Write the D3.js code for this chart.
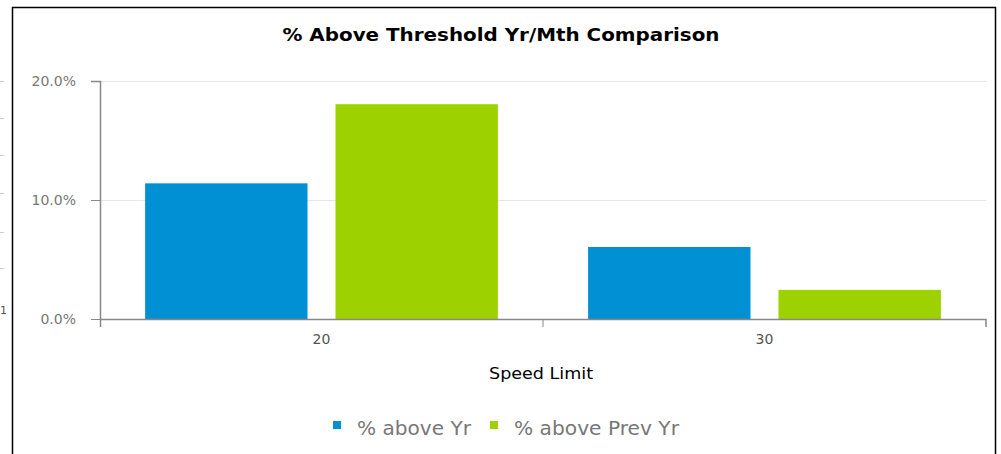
<!DOCTYPE html>
<html>
<head>
<meta charset="utf-8">
<script src="https://cdn.jsdelivr.net/npm/d3@7"></script>
<style>
  body { margin: 0; background: #fff; }
  svg { display: block; }
</style>
</head>
<body>
<div id="chart"></div>
<script>
// data
var categories = ["20", "30"];
var seriesNames = ["% above Yr", "% above Prev Yr"];
var aboveYr = [11.4, 6.05];
var abovePrevYr = [18.05, 2.45];
var yTicks = [0, 10, 20];
var colors = ["#0290d4", "#9dd200"];

var W = 1001, H = 454;
var margin = {top: 81, right: 15, bottom: 135, left: 100},
    width = 986 - margin.left,
    height = 319 - margin.top;

var svg = d3.select("#chart").append("svg")
    .attr("width", W)
    .attr("height", H);

// frame around the chart panel
svg.append("path")
    .attr("d", "M12.5,454 V7.5 H995.5 V454")
    .attr("fill", "none")
    .attr("stroke", "#000")
    .attr("stroke-width", 1.5);

// leftover tick marks of the neighbouring panel
[81, 118, 155, 193, 232, 268].forEach(function(y) {
  svg.append("line")
      .attr("x1", 0).attr("x2", 4)
      .attr("y1", y + 0.5).attr("y2", y + 0.5)
      .attr("stroke", "#ccc");
});
svg.append("text")
    .attr("x", 0).attr("y", 314)
    .attr("font-family", "DejaVu Sans, sans-serif")
    .attr("font-size", 11).attr("fill", "#555")
    .text("1");

var g = svg.append("g")
    .attr("transform", "translate(" + margin.left + "," + margin.top + ")");

var y = d3.scaleLinear()
    .domain([0, 20])
    .range([height, 0]);

var x0 = d3.scaleBand()
    .domain(categories)
    .range([0, width])
    .padding(0);

var x1 = d3.scaleBand()
    .domain(seriesNames)
    .range([0, x0.bandwidth()])
    .paddingInner(0.147)
    .paddingOuter(0.237);

// grid
g.selectAll(".grid")
    .data(yTicks.filter(function(d) { return d > 0; }))
    .enter().append("line")
    .attr("x1", 0).attr("x2", width)
    .attr("y1", function(d) { return Math.round(y(d)) + 0.5; })
    .attr("y2", function(d) { return Math.round(y(d)) + 0.5; })
    .attr("stroke", "#e6e6e6");

// bars
var rows = categories.map(function(c, i) {
  return {cat: c, vals: [aboveYr[i], abovePrevYr[i]]};
});

var grp = g.selectAll(".cat")
    .data(rows)
    .enter().append("g")
    .attr("transform", function(d) { return "translate(" + x0(d.cat) + ",0)"; });

grp.selectAll("rect")
    .data(function(d) { return d.vals.map(function(v, j) { return {name: seriesNames[j], v: v, j: j}; }); })
    .enter().append("rect")
    .attr("x", function(d) { return x1(d.name); })
    .attr("y", function(d) { return y(d.v); })
    .attr("width", x1.bandwidth())
    .attr("height", function(d) { return height - y(d.v); })
    .attr("fill", function(d) { return colors[d.j]; });

// y axis
var yAxis = g.append("g")
    .call(d3.axisLeft(y).tickValues(yTicks).tickSize(9).tickPadding(15)
        .tickFormat(function(d) { return d3.format(".1f")(d) + "%"; }));
yAxis.select(".domain")
    .attr("d", "M-9,0.5 H0.5 V" + (height + 8));
yAxis.selectAll("line").attr("stroke", "#888");
yAxis.selectAll(".domain").attr("stroke", "#888").attr("stroke-width", 1.5);
yAxis.selectAll("text")
    .attr("fill", "#777")
    .attr("font-family", "DejaVu Sans, sans-serif")
    .attr("font-size", 14);

// x axis
var xAxis = g.append("g")
    .attr("transform", "translate(0," + height + ")")
    .call(d3.axisBottom(x0).tickSize(0).tickPadding(15));
xAxis.select(".domain")
    .attr("d", "M0,0.5 H" + width + " V8")
    .attr("stroke", "#888").attr("stroke-width", 1.5);
xAxis.selectAll("text")
    .attr("fill", "#555")
    .attr("font-family", "DejaVu Sans, sans-serif")
    .attr("font-size", 14);
xAxis.selectAll(".sep")
    .data([x0.step()])
    .enter().append("line")
    .attr("x1", function(d) { return d; }).attr("x2", function(d) { return d; })
    .attr("y1", 0).attr("y2", 8)
    .attr("stroke", "#888");

// titles
svg.append("text")
    .attr("x", 501).attr("y", 41)
    .attr("text-anchor", "middle")
    .attr("font-family", "DejaVu Sans, sans-serif")
    .attr("font-weight", "bold")
    .attr("font-size", 18)
    .attr("fill", "#000")
    .attr("textLength", 437)
    .attr("lengthAdjust", "spacingAndGlyphs")
    .text("% Above Threshold Yr/Mth Comparison");

svg.append("text")
    .attr("x", 541).attr("y", 379)
    .attr("text-anchor", "middle")
    .attr("font-family", "DejaVu Sans, sans-serif")
    .attr("font-size", 16)
    .attr("fill", "#000")
    .attr("textLength", 104)
    .attr("lengthAdjust", "spacingAndGlyphs")
    .text("Speed Limit");

// legend
var legendX = [333, 490];
var legendLen = [114, 165];
var leg = svg.selectAll(".leg")
    .data(seriesNames)
    .enter().append("g")
    .attr("transform", function(d, i) { return "translate(" + legendX[i] + ",421)"; });
leg.append("rect")
    .attr("width", 8).attr("height", 8)
    .attr("fill", function(d, i) { return colors[i]; });
leg.append("text")
    .attr("x", 24).attr("y", 14)
    .attr("font-family", "DejaVu Sans, sans-serif")
    .attr("font-size", 19)
    .attr("fill", "#777")
    .attr("textLength", function(d, i) { return legendLen[i]; })
    .attr("lengthAdjust", "spacingAndGlyphs")
    .text(function(d) { return d; });
</script>
</body>
</html>
